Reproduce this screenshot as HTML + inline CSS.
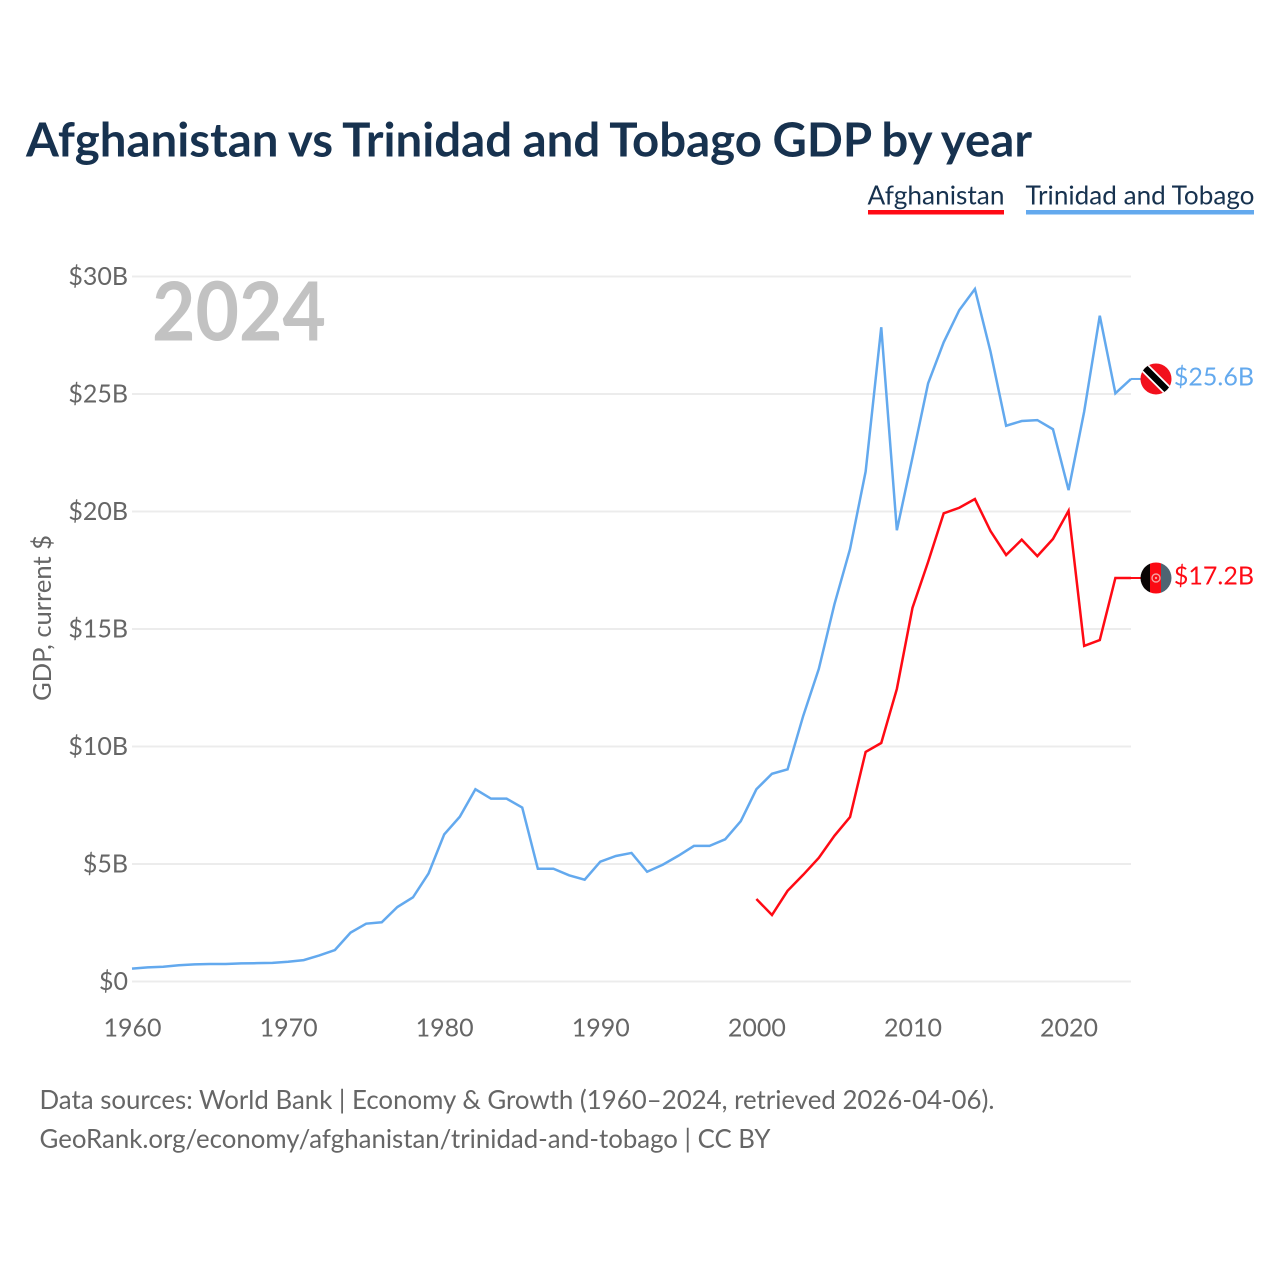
<!DOCTYPE html>
<html lang="en">
<head>
<meta charset="utf-8">
<title>Afghanistan vs Trinidad and Tobago GDP by year</title>
<style>
html,body{margin:0;padding:0;background:#fff;width:1280px;height:1280px;overflow:hidden}
svg{display:block}
text{font-family:"Lato","Carlito","Liberation Sans",sans-serif}
</style>
</head>
<body>
<svg id="chart" xmlns="http://www.w3.org/2000/svg" width="1280" height="1280" viewBox="0 0 1280 1280">
  <defs>
    <clipPath id="flag-clip-tt"><circle cx="0" cy="0" r="15.5"/></clipPath>
    <clipPath id="flag-clip-af"><circle cx="0" cy="0" r="15.5"/></clipPath>
  </defs>
  <rect x="0" y="0" width="1280" height="1280" fill="#ffffff"/>
  <text x="26" y="156.5" font-size="46.5" font-weight="700" word-spacing="-1" fill="#17324f" textLength="1006" lengthAdjust="spacingAndGlyphs">Afghanistan vs Trinidad and Tobago GDP by year</text>

  <g>
    <g>
      <text x="867.5" y="204.5" font-size="26.5" fill="#17324f" textLength="137" lengthAdjust="spacingAndGlyphs">Afghanistan</text>
      <rect x="868" y="210" width="136" height="4.5" fill="#ff0a14"/>
    </g>
    <g>
      <text x="1025.5" y="204.5" font-size="26.5" fill="#17324f" textLength="229" lengthAdjust="spacingAndGlyphs">Trinidad and Tobago</text>
      <rect x="1026" y="210" width="228" height="4.5" fill="#63a9ee"/>
    </g>
  </g>

  <g id="grid"></g>
  <g id="y-ticks"></g>
  <g id="x-ticks"></g>

  <text x="152" y="340.5" font-size="81" font-weight="700" fill="#c2c2c2" textLength="174" lengthAdjust="spacingAndGlyphs">2024</text>
  <text transform="translate(51 618) rotate(-90)" text-anchor="middle" font-size="25.5" fill="#666666" textLength="166" lengthAdjust="spacingAndGlyphs">GDP, current $</text>

  <g id="series"></g>
  <g id="end-markers"></g>

  <text x="39.5" y="1109" font-size="26.5" fill="#666666" textLength="955" lengthAdjust="spacingAndGlyphs">Data sources: World Bank | Economy &amp; Growth (1960–2024, retrieved 2026-04-06).</text>
  <text x="39.5" y="1148" font-size="26.5" fill="#666666" textLength="731" lengthAdjust="spacingAndGlyphs">GeoRank.org/economy/afghanistan/trinidad-and-tobago | CC BY</text>
</svg>

<script>
const years = [1960,1961,1962,1963,1964,1965,1966,1967,1968,1969,1970,1971,1972,1973,1974,1975,1976,1977,1978,1979,1980,1981,1982,1983,1984,1985,1986,1987,1988,1989,1990,1991,1992,1993,1994,1995,1996,1997,1998,1999,2000,2001,2002,2003,2004,2005,2006,2007,2008,2009,2010,2011,2012,2013,2014,2015,2016,2017,2018,2019,2020,2021,2022,2023,2024];
const trinidadValues = [0.55,0.6,0.63,0.69,0.73,0.745,0.745,0.77,0.78,0.79,0.84,0.91,1.11,1.34,2.08,2.46,2.52,3.17,3.58,4.6,6.26,7.01,8.18,7.78,7.78,7.4,4.8,4.8,4.52,4.33,5.1,5.34,5.47,4.67,4.97,5.35,5.77,5.77,6.05,6.82,8.18,8.84,9.03,11.3,13.3,16.05,18.4,21.7,27.84,19.2,22.3,25.45,27.2,28.57,29.47,26.8,23.65,23.85,23.89,23.5,20.91,24.25,28.33,25.03,25.64];
const afghanistanYears = [2000,2001,2002,2003,2004,2005,2006,2007,2008,2009,2010,2011,2012,2013,2014,2015,2016,2017,2018,2019,2020,2021,2022,2023,2024];
const afghanistanValues = [3.51,2.83,3.86,4.54,5.26,6.2,7.0,9.77,10.15,12.45,15.9,17.85,19.92,20.16,20.53,19.17,18.15,18.8,18.1,18.83,20.03,14.28,14.53,17.17,17.17];
const yTickValues = [0,5,10,15,20,25,30];
const yTickLabels = ['$0','$5B','$10B','$15B','$20B','$25B','$30B'];
const xTickValues = [1960,1970,1980,1990,2000,2010,2020];

const NS = 'http://www.w3.org/2000/svg';
const xScale = function (year) { return 132 + (year - 1960) * (1131 - 132) / 64; };
const yScale = function (value) { return 981.5 - value * 23.5; };
const make = function (tag, parent) {
  const node = document.createElementNS(NS, tag);
  parent.appendChild(node);
  return node;
};

const gridGroup = document.getElementById('grid');
const yTickGroup = document.getElementById('y-ticks');
yTickValues.forEach(function (value, i) {
  const line = make('line', gridGroup);
  
  
  line.setAttribute('x1', 132);
  line.setAttribute('x2', 1131);
  line.setAttribute('y1', yScale(value));
  line.setAttribute('y2', yScale(value));
  line.setAttribute('stroke', '#ececec');
  line.setAttribute('stroke-width', '2');
  const label = make('text', yTickGroup);
  
  
  label.setAttribute('x', 128);
  label.setAttribute('y', yScale(value) + 8.5);
  label.setAttribute('text-anchor', 'end');
  label.setAttribute('font-size', '25');
  label.setAttribute('fill', '#666666');
  label.textContent = yTickLabels[i];
});

const xTickGroup = document.getElementById('x-ticks');
xTickValues.forEach(function (year) {
  const label = make('text', xTickGroup);
  
  
  label.setAttribute('x', xScale(year) + 0.5);
  label.setAttribute('y', 1036.5);
  label.setAttribute('text-anchor', 'middle');
  label.setAttribute('font-size', '25');
  label.setAttribute('fill', '#666666');
  label.textContent = String(year);
});

const seriesGroup = document.getElementById('series');
const drawLine = function (xs, ys, color) {
  const line = make('polyline', seriesGroup);
  
  
  line.setAttribute('points', xs.map(function (x, i) { return xScale(x).toFixed(2) + ',' + yScale(ys[i]).toFixed(2); }).join(' '));
  line.setAttribute('fill', 'none');
  line.setAttribute('stroke', color);
  line.setAttribute('stroke-width', '2.5');
  line.setAttribute('stroke-linejoin', 'miter');
};
drawLine(years, trinidadValues, '#63a9ee');
drawLine(afghanistanYears, afghanistanValues, '#ff0a14');

const markerGroup = document.getElementById('end-markers');
const drawEnd = function (ys, color, paintFlag) {
  const last = ys[ys.length - 1];
  const cy = yScale(last);
  const connector = make('line', markerGroup);
  
  
  connector.setAttribute('x1', 1131);
  connector.setAttribute('x2', 1143);
  connector.setAttribute('y1', cy);
  connector.setAttribute('y2', cy);
  connector.setAttribute('stroke', color);
  connector.setAttribute('stroke-width', '2');
  const flag = make('g', markerGroup);
  
  
  flag.setAttribute('transform', 'translate(1156 ' + cy + ')');
  paintFlag(flag);
  const label = make('text', markerGroup);
  
  
  label.setAttribute('x', 1254);
  label.setAttribute('y', cy + 6.5);
  label.setAttribute('text-anchor', 'end');
  label.setAttribute('font-size', '25');
  label.setAttribute('fill', color);
  label.textContent = '$' + last.toFixed(1) + 'B';
};

const shape = function (parent, tag, attrs) {
  const node = make(tag, parent);
  Object.keys(attrs).forEach(function (key) { node.setAttribute(key, attrs[key]); });
  return node;
};

drawEnd(trinidadValues, '#63a9ee', function (flag) {
  const clip = make('g', flag);
  clip.setAttribute('clip-path', 'url(#flag-clip-tt)');
  shape(clip, 'rect', { x: -16, y: -16, width: 32, height: 32, fill: '#f2101c' });
  shape(clip, 'line', { x1: -18, y1: -18, x2: 18, y2: 18, stroke: '#ffffff', 'stroke-width': 10 });
  shape(clip, 'line', { x1: -18, y1: -18, x2: 18, y2: 18, stroke: '#000000', 'stroke-width': 6.5 });
});

drawEnd(afghanistanValues, '#ff0a14', function (flag) {
  const clip = make('g', flag);
  clip.setAttribute('clip-path', 'url(#flag-clip-af)');
  shape(clip, 'rect', { x: -16, y: -16, width: 10, height: 32, fill: '#0a0505' });
  shape(clip, 'rect', { x: -6, y: -16, width: 11, height: 32, fill: '#fb0a14' });
  shape(clip, 'rect', { x: 5, y: -16, width: 11, height: 32, fill: '#4f6472' });
  shape(clip, 'circle', { cx: 0, cy: 0, r: 4, fill: 'none', stroke: '#f5a0a0', 'stroke-width': 1.4 });
  shape(clip, 'circle', { cx: 0, cy: 0, r: 1.2, fill: '#f5a0a0' });
});
</script>
</body>
</html>
